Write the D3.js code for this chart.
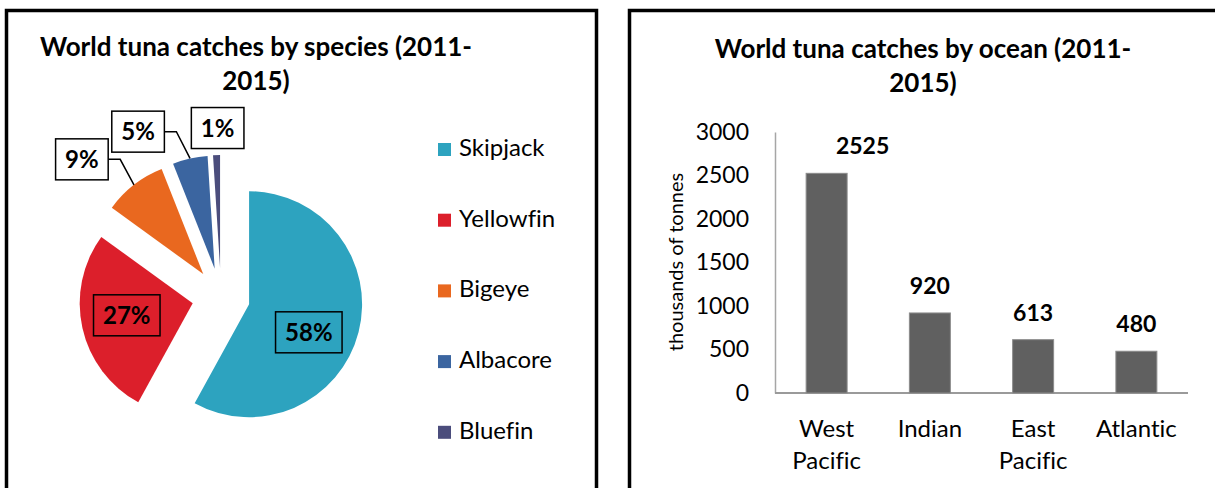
<!DOCTYPE html>
<html>
<head>
<meta charset="utf-8">
<script src="https://cdn.jsdelivr.net/npm/d3@7"></script>
<style>
  html, body { margin: 0; padding: 0; background: #fff; }
  svg { display: block; font-family: Lato, "Open Sans", sans-serif; font-variant-ligatures: none; }
</style>
</head>
<body>
<svg id="chart" width="1215" height="488"></svg>
<script>
// ---- data ----
const species = ["Skipjack", "Yellowfin", "Bigeye", "Albacore", "Bluefin"];
const speciesShare = [58, 27, 9, 5, 1];            // % of world tuna catch
const speciesColors = ["#2da3bf", "#dc1f2b", "#e9681f", "#3b65a0", "#4b4d7c"];

const oceans = ["West Pacific", "Indian", "East Pacific", "Atlantic"];
const oceanCatch = [2525, 920, 613, 480];           // thousands of tonnes
const oceanTicks = [0, 500, 1000, 1500, 2000, 2500, 3000];

// ---- layout ----
const svg = d3.select("#chart");
svg.append("rect").attr("width", 1215).attr("height", 488).attr("fill", "#fff");

// panel frames (bottom edges run past the visible area)
svg.append("rect").attr("x", 6.5).attr("y", 10.5).attr("width", 590).attr("height", 520)
  .attr("fill", "none").attr("stroke", "#000").attr("stroke-width", 3.5);
svg.append("rect").attr("x", 629.5).attr("y", 10.5).attr("width", 620).attr("height", 520)
  .attr("fill", "none").attr("stroke", "#000").attr("stroke-width", 3.5);

function title(cx, y, lines) {
  const t = svg.append("text").attr("text-anchor", "middle")
    .attr("font-weight", 700).attr("font-size", 26).attr("fill", "#000");
  lines.forEach((s, i) => t.append("tspan").attr("x", cx).attr("y", y + i * 34).text(s));
}

// ================= Pie: catches by species =================
title(256, 56, ["World tuna catches by species (2011-", "2015)"]);

const pieCx = 221, pieCy = 297, radius = 113, explode = 29;
const pie = d3.pie().sort(null).value(d => d);
const arcs = pie(speciesShare);
const arc = d3.arc().innerRadius(0).outerRadius(radius);
const polar = (a, d) => [d * Math.sin(a), -d * Math.cos(a)];

// label placement per slice: distance from slice apex and angular shift (deg) from mid-angle
const labelPlace = [
  { dist: 66, shift: 10.8, inside: true },
  { dist: 67, shift: 2.3, inside: true },
  { dist: 167, shift: -8.8, inside: false, leader: true },
  { dist: 157, shift: -16.6, inside: false, leader: true },
  { dist: 140, shift: 0.8, inside: false, leader: false }
];

const pieG = svg.append("g").attr("transform", `translate(${pieCx},${pieCy})`);
arcs.forEach((a, i) => {
  const mid = (a.startAngle + a.endAngle) / 2;
  const [ox, oy] = polar(mid, explode);
  const g = pieG.append("g").attr("transform", `translate(${ox},${oy})`);
  g.append("path").attr("d", arc(a)).attr("fill", speciesColors[i]);

  const lp = labelPlace[i];
  const [lx, ly] = polar(mid + lp.shift * Math.PI / 180, lp.dist);
  const txt = speciesShare[i] + "%";
  const label = g.append("g");
  const t = label.append("text").attr("x", lx).attr("y", ly + 8.5)
    .attr("text-anchor", "middle").attr("font-weight", 700).attr("font-size", 24)
    .attr("fill", "#000").text(txt);
  const w = t.node().getComputedTextLength() + 19, h = 41;
  label.insert("rect", "text")
    .attr("x", lx - w / 2).attr("y", ly - h / 2).attr("width", w).attr("height", h)
    .attr("fill", lp.inside ? speciesColors[i] : "#fff")
    .attr("stroke", "#000").attr("stroke-width", 1.5);

  if (lp.leader) {
    const [mx, my] = polar(mid, radius);
    const bx = lx + w / 2;
    g.insert("path", "g")
      .attr("d", `M${mx},${my}L${bx + 12},${ly}L${bx},${ly}`)
      .attr("fill", "none").attr("stroke", "#000").attr("stroke-width", 1.5);
  }
});

// legend
const legend = svg.append("g").attr("transform", "translate(438,143)");
species.forEach((s, i) => {
  const row = legend.append("g").attr("transform", `translate(0,${i * 70.7})`);
  row.append("rect").attr("width", 13).attr("height", 13).attr("fill", speciesColors[i]);
  row.append("text").attr("x", 21).attr("y", 13).attr("font-size", 24).attr("fill", "#000").text(s);
});

// ================= Bars: catches by ocean =================
title(923, 58, ["World tuna catches by ocean (2011-", "2015)"]);

const x = d3.scaleBand().domain(oceans).range([775, 1188]).paddingInner(0.603).paddingOuter(0.3015);
const y = d3.scaleLinear().domain([0, 3000]).range([393, 132]);

// y axis
const yAxis = svg.append("g").attr("transform", "translate(775,0)")
  .call(d3.axisLeft(y).tickValues(oceanTicks).tickFormat(d3.format("d")).tickSize(0).tickPadding(26));
yAxis.select(".domain").attr("stroke", "#a6a6a6").attr("stroke-width", 1.5);
yAxis.selectAll("text").attr("font-family", "Lato").attr("font-size", 23).attr("fill", "#000");

// x axis baseline
svg.append("line").attr("x1", 775).attr("x2", 1188).attr("y1", y(0)).attr("y2", y(0))
  .attr("stroke", "#9a9a9a").attr("stroke-width", 2);

// bars
svg.append("g").selectAll("rect").data(oceanCatch).join("rect")
  .attr("x", (d, i) => x(oceans[i]))
  .attr("y", d => y(d))
  .attr("width", x.bandwidth())
  .attr("height", d => y(0) - y(d))
  .attr("fill", "#606060").attr("stroke", "#8c8c8c").attr("stroke-width", 1);

// value labels (the tallest column's label is pulled to the right of its column)
const topIdx = oceanCatch.indexOf(d3.max(oceanCatch));
svg.append("g").selectAll("text").data(oceanCatch).join("text")
  .attr("x", (d, i) => x(oceans[i]) + x.bandwidth() / 2 + (i === topIdx ? 36 : 0))
  .attr("y", d => y(d) - 19)
  .attr("text-anchor", "middle").attr("font-weight", 700).attr("font-size", 23)
  .attr("fill", "#000").text(d => d);

// category labels, wrapped on spaces
oceans.forEach(c => {
  const t = svg.append("text").attr("text-anchor", "middle").attr("font-size", 24).attr("fill", "#000");
  c.split(" ").forEach((w, j) => t.append("tspan")
    .attr("x", x(c) + x.bandwidth() / 2).attr("y", 437 + j * 32).text(w));
});

// y axis title
svg.append("text").attr("transform", "translate(683,262) rotate(-90)")
  .attr("text-anchor", "middle").attr("font-size", 20).attr("fill", "#000")
  .text("thousands of tonnes");
</script>
</body>
</html>
